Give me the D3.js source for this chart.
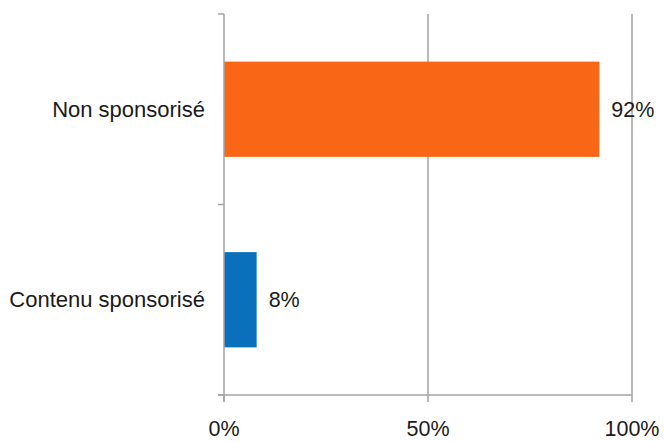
<!DOCTYPE html>
<html>
<head>
<meta charset="utf-8">
<script src="https://cdn.jsdelivr.net/npm/d3@7"></script>
<style>
  html, body { margin: 0; padding: 0; background: #fff; }
  svg { display: block; font-family: "Liberation Sans", Arial, sans-serif; }
</style>
</head>
<body>
<div id="chart"></div>
<script>
// données
const categories = ['Non sponsorisé', 'Contenu sponsorisé'];
const values     = [92, 8];
const colors     = ['#f96616', '#0a70bc'];
const xTicks     = [0, 50, 100];

const W = 664, H = 442;
const m = {top: 14, right: 32, bottom: 47, left: 224};
const GRID = '#a3a3a3';

const svg = d3.select('#chart').append('svg')
  .attr('width', W).attr('height', H);

const x = d3.scaleLinear().domain([0, 100]).range([m.left, W - m.right]);
const y = d3.scaleBand().domain(categories)
  .range([m.top, H - m.bottom])
  .paddingInner(0.5).paddingOuter(0.25);

// grille verticale
svg.append('g').selectAll('line')
  .data(xTicks.slice(1)).join('line')
    .attr('x1', d => x(d)).attr('x2', d => x(d))
    .attr('y1', m.top).attr('y2', H - m.bottom)
    .attr('stroke', GRID).attr('stroke-width', 1.5);

// barres
svg.append('g').selectAll('rect')
  .data(categories).join('rect')
    .attr('x', x(0))
    .attr('y', c => y(c))
    .attr('width', (c, i) => x(values[i]) - x(0))
    .attr('height', y.bandwidth())
    .attr('fill', (c, i) => colors[i]);

// étiquettes de valeurs
svg.append('g').selectAll('text')
  .data(categories).join('text')
    .attr('x', (c, i) => x(values[i]) + 12)
    .attr('y', c => y(c) + y.bandwidth() / 2)
    .attr('dy', '0.35em')
    .attr('font-size', 21.5)
    .attr('fill', '#1a1a1a')
    .text((c, i) => values[i] + '%');

// axe Y (catégories) : ligne + graduations entre bandes
const yEdges = [m.top, (m.top + H - m.bottom) / 2, H - m.bottom];
const yAxis = svg.append('g');
yAxis.append('line')
  .attr('x1', x(0)).attr('x2', x(0))
  .attr('y1', m.top).attr('y2', H - m.bottom + 7)
  .attr('stroke', GRID).attr('stroke-width', 1.5);
yAxis.selectAll('.tk').data(yEdges).join('line')
  .attr('class', 'tk')
  .attr('x1', x(0) - 6).attr('x2', x(0))
  .attr('y1', d => d).attr('y2', d => d)
  .attr('stroke', GRID).attr('stroke-width', 1.5);
yAxis.selectAll('text').data(categories).join('text')
  .attr('x', x(0) - 19)
  .attr('y', c => y(c) + y.bandwidth() / 2)
  .attr('dy', '0.35em')
  .attr('text-anchor', 'end')
  .attr('font-size', 22)
  .attr('fill', '#1a1a1a')
  .text(c => c);

// axe X
const xAxis = svg.append('g');
xAxis.append('line')
  .attr('x1', x(0) - 6).attr('x2', x(100))
  .attr('y1', H - m.bottom).attr('y2', H - m.bottom)
  .attr('stroke', GRID).attr('stroke-width', 1.5);
xAxis.selectAll('.tk').data(xTicks).join('line')
  .attr('class', 'tk')
  .attr('x1', d => x(d)).attr('x2', d => x(d))
  .attr('y1', H - m.bottom).attr('y2', H - m.bottom + 7)
  .attr('stroke', GRID).attr('stroke-width', 1.5);
xAxis.selectAll('text').data(xTicks).join('text')
  .attr('x', d => x(d))
  .attr('y', 436)
  .attr('text-anchor', 'middle')
  .attr('font-size', 21.5)
  .attr('fill', '#1a1a1a')
  .text(d => d + '%');
</script>
</body>
</html>
